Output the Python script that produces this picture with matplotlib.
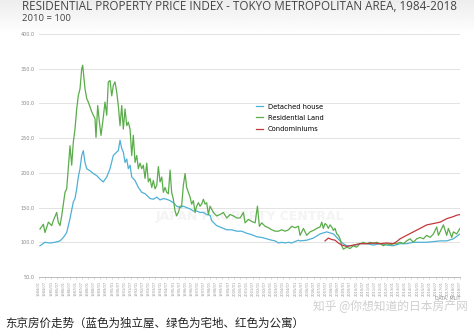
import numpy as np
import matplotlib
matplotlib.use('Agg')
import matplotlib.pyplot as plt

# Index values (2010 = 100), x in decimal years
detached_years = [1984.08, 1984.49, 1984.90, 1985.31, 1985.72, 1986.00, 1986.27, 1986.54, 1986.81, 1986.95,
                  1987.09, 1987.22, 1987.36, 1987.50, 1987.63, 1987.77, 1987.91, 1988.18, 1988.45, 1988.73,
                  1989.00, 1989.27, 1989.55, 1989.82, 1990.09, 1990.37, 1990.50, 1990.64, 1990.78, 1990.91,
                  1991.05, 1991.19, 1991.32, 1991.46, 1991.60, 1991.87, 1992.14, 1992.42, 1992.69, 1993.10,
                  1993.37, 1993.65, 1993.92, 1994.19, 1994.46, 1994.74, 1995.01, 1995.28, 1995.56, 1995.83,
                  1996.10, 1996.38, 1996.65, 1996.92, 1997.20, 1997.47, 1997.74, 1998.02, 1998.15, 1998.56,
                  1998.97, 1999.38, 1999.79, 2000.20, 2000.61, 2001.02, 2001.43, 2001.84, 2002.25, 2002.66,
                  2003.07, 2003.35, 2003.62, 2003.89, 2004.17, 2004.44, 2004.71, 2004.98, 2005.26, 2005.39,
                  2005.94, 2006.48, 2007.03, 2007.58, 2008.13, 2008.40, 2008.67, 2008.94, 2009.22, 2009.76,
                  2010.31, 2010.85, 2011.40, 2011.95, 2012.49, 2013.04, 2013.59, 2014.13, 2014.68, 2015.23,
                  2015.77, 2016.32, 2016.87, 2017.41, 2017.96, 2018.50]
detached = [95, 100, 99, 100, 102, 107, 114, 134, 158, 163,
            177, 194, 206, 225, 232, 215, 206, 203, 199, 196,
            191, 187, 194, 206, 225, 230, 232, 247, 235, 230,
            215, 220, 206, 211, 194, 189, 179, 172, 170, 163,
            162, 165, 161, 163, 162, 160, 157, 152, 150, 152,
            150, 148, 145, 145, 143, 143, 140, 139, 131, 124,
            121, 118, 118, 116, 116, 113, 111, 108, 107, 105,
            103, 102, 99, 100, 99, 100, 99, 101, 103, 102,
            103, 106, 112, 115, 112, 107, 102, 98, 95, 95,
            98, 98, 96, 98, 96, 95, 98, 98, 100, 100,
            100, 101, 102, 102, 105, 112]

land_years = [1984.08, 1984.36, 1984.49, 1984.77, 1985.04, 1985.17, 1985.45, 1985.58, 1985.72, 1985.86,
              1986.13, 1986.27, 1986.40, 1986.54, 1986.68, 1986.81, 1986.95, 1987.09, 1987.22, 1987.36,
              1987.50, 1987.58, 1987.72, 1987.77, 1987.91, 1988.04, 1988.18, 1988.32, 1988.45, 1988.59,
              1988.67, 1988.81, 1988.95, 1989.08, 1989.22, 1989.41, 1989.55, 1989.68, 1989.82, 1989.96,
              1990.09, 1990.23, 1990.37, 1990.50, 1990.64, 1990.78, 1990.91, 1991.05, 1991.19, 1991.32,
              1991.46, 1991.60, 1991.73, 1991.87, 1992.01, 1992.14, 1992.28, 1992.42, 1992.55, 1992.69,
              1992.83, 1992.96, 1993.10, 1993.24, 1993.37, 1993.51, 1993.65, 1993.78, 1993.92, 1994.06,
              1994.19, 1994.33, 1994.46, 1994.60, 1994.74, 1994.87, 1995.01, 1995.15, 1995.28, 1995.42,
              1995.56, 1995.69, 1995.83, 1995.97, 1996.10, 1996.24, 1996.38, 1996.51, 1996.65, 1996.79,
              1996.92, 1997.06, 1997.20, 1997.33, 1997.47, 1997.61, 1997.74, 1997.88, 1998.02, 1998.29,
              1998.56, 1998.84, 1999.11, 1999.38, 1999.66, 1999.93, 2000.20, 2000.48, 2000.75, 2000.89,
              2001.16, 2001.43, 2001.71, 2001.90, 2002.06, 2002.25, 2002.53, 2002.80, 2003.07, 2003.35,
              2003.62, 2003.89, 2004.17, 2004.44, 2004.71, 2004.98, 2005.26, 2005.39, 2005.67, 2005.94,
              2006.21, 2006.48, 2006.76, 2007.03, 2007.17, 2007.30, 2007.44, 2007.58, 2007.71, 2007.85,
              2007.99, 2008.13, 2008.26, 2008.40, 2008.53, 2008.67, 2008.81, 2008.94, 2009.22, 2009.49,
              2009.76, 2010.03, 2010.31, 2010.58, 2010.85, 2011.13, 2011.40, 2011.67, 2011.95, 2012.22,
              2012.49, 2012.77, 2013.04, 2013.31, 2013.59, 2013.86, 2014.13, 2014.41, 2014.68, 2014.95,
              2015.23, 2015.50, 2015.77, 2016.05, 2016.32, 2016.59, 2016.73, 2016.87, 2017.14, 2017.28,
              2017.41, 2017.55, 2017.82, 2017.96, 2018.23, 2018.50]
land = [119, 126, 114, 129, 124, 131, 143, 129, 124, 138,
        172, 177, 206, 239, 211, 244, 263, 292, 311, 321,
        350, 355, 331, 321, 307, 302, 295, 288, 283, 278,
        251, 297, 273, 254, 273, 302, 283, 331, 333, 311,
        326, 331, 316, 297, 268, 297, 263, 292, 268, 273,
        263, 225, 254, 215, 225, 206, 214, 206, 211, 192,
        214, 187, 192, 179, 189, 177, 182, 209, 187, 194,
        172, 179, 172, 170, 204, 172, 162, 145, 138, 143,
        152, 152, 182, 199, 179, 172, 165, 155, 160, 143,
        152, 157, 152, 155, 162, 155, 157, 140, 152, 143,
        138, 140, 143, 135, 140, 138, 135, 135, 143, 128,
        133, 130, 128, 152, 123, 128, 123, 121, 118, 116,
        116, 118, 116, 118, 123, 121, 123, 110, 120, 110,
        115, 117, 120, 122, 129, 120, 127, 125, 120, 125,
        122, 117, 120, 112, 110, 105, 95, 90, 93, 91,
        95, 93, 98, 100, 98, 100, 98, 100, 98, 95,
        98, 96, 98, 98, 100, 98, 102, 105, 100, 105,
        107, 105, 110, 107, 112, 122, 110, 115, 125, 117,
        110, 120, 107, 115, 112, 120]

condo_years = [2007.44, 2007.71, 2007.99, 2008.26, 2008.53, 2008.81, 2009.22, 2009.76, 2010.31, 2010.85,
               2011.40, 2011.95, 2012.49, 2013.04, 2013.31, 2013.59, 2014.13, 2014.68, 2015.23, 2015.77,
               2016.32, 2016.87, 2017.41, 2017.96, 2018.23, 2018.50]
condo = [102, 106, 104, 103, 99, 96, 94, 96, 98, 98,
         99, 98, 99, 98, 101, 105, 110, 115, 120, 125,
         127, 129, 134, 137, 139, 140]

tick_years = np.arange(1984.0, 2018.51, 0.5)
tick_labels = [f"{int(y)}/{'01' if y % 1 == 0 else '07'}" for y in tick_years]

W, H = 474, 332
fig = plt.figure(figsize=(W / 100, H / 100), dpi=100)

# faint grey shading along the top edge
bg = fig.add_axes([0, 1 - 34 / H, 1, 34 / H], zorder=-5)
bg.imshow(np.linspace(0.93, 1.0, 50).reshape(-1, 1), cmap='gray', vmin=0, vmax=1,
          aspect='auto', extent=[0, 1, 0, 1])
bg.axis('off')

ax = fig.add_axes([39 / W, 1 - 277 / H, 421 / W, 243 / H])
ax.plot(land_years, land, color='#5aad4a', lw=0.9, label='Residential Land', zorder=3)
ax.plot(detached_years, detached, color='#4fb0d6', lw=0.9, label='Detached house', zorder=2)
ax.plot(condo_years, condo, color='#c4383a', lw=0.9, label='Condominiums', zorder=4)

ax.set_xlim(1984.0, 2018.5)
ax.set_ylim(50, 400)
ax.set_yticks(range(50, 401, 50))
ax.set_yticklabels([f"{v:.1f}" for v in range(50, 401, 50)], fontsize=3.5, color='#888888')
ax.set_xticks(tick_years)
ax.set_xticklabels(tick_labels, rotation=90, fontsize=2.6, color='#999999')
ax.tick_params(axis='y', length=0, pad=3)
ax.tick_params(axis='x', length=1.5, width=0.4, color='#bbbbbb', pad=1.5)
ax.grid(axis='y', color='#e3e3e3', lw=0.7)
for s in ['top', 'right', 'left']:
    ax.spines[s].set_visible(False)
ax.spines['bottom'].set_color('#bbbbbb')
ax.spines['bottom'].set_linewidth(0.7)
ax.set_axisbelow(True)

handles, labels = ax.get_legend_handles_labels()
order = [1, 0, 2]
ax.legend([handles[i] for i in order], [labels[i] for i in order],
          loc='upper left', bbox_to_anchor=((253 - 39) / 421, (277 - 101) / 243),
          frameon=False, fontsize=4.9, handlelength=1.0, handletextpad=0.8,
          labelspacing=0.75, borderaxespad=0)

ax.text(0.5, 0.25, 'JAPAN PROPERTY CENTRAL', transform=ax.transAxes, fontsize=9,
        fontweight='bold', color='#f4f4f4', ha='center', va='center', zorder=1)

title = fig.text(22 / W, 1 - 10 / H,
                 'RESIDENTIAL PROPERTY PRICE INDEX - TOKYO METROPOLITAN AREA, 1984-2018',
                 fontsize=9, color='#444444', family='Open Sans', ha='left', va='baseline')
# shrink the title so that it spans the same width as in the reference
fig.canvas.draw()
tw = title.get_window_extent().width
title.set_fontsize(9 * 433 / tw)

fig.text(22 / W, 1 - 21 / H, '2010 = 100', fontsize=6.8, color='#444444', family='Open Sans',
         ha='left', va='baseline')
fig.text(460 / W, 1 - 300 / H, 'DATA: MLIT', fontsize=3.3, color='#888888', ha='right', va='baseline')
fig.text(468 / W, 1 - 310 / H, '知乎 @你想知道的日本房产网', fontsize=8.5, color='#cfcfcf',
         family=['Noto Sans CJK SC', 'DejaVu Sans'], ha='right', va='baseline')
fig.text(5 / W, 1 - 327 / H, '东京房价走势（蓝色为独立屋、绿色为宅地、红色为公寓）', fontsize=8.3,
         color='#222222', family=['Noto Sans CJK SC', 'DejaVu Sans'], ha='left', va='baseline')

fig.savefig('out.png', dpi=100)
